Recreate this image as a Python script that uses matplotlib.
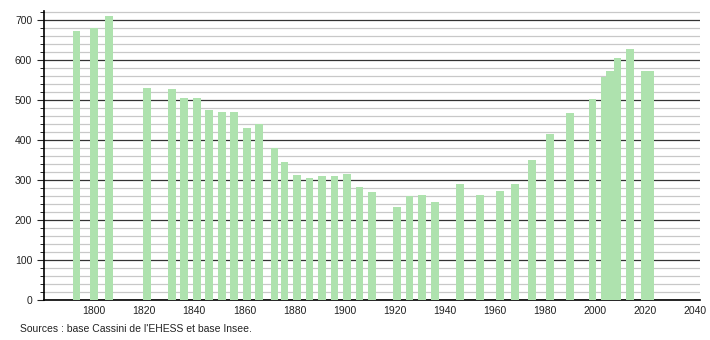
import matplotlib.pyplot as plt
from matplotlib.ticker import MultipleLocator

plt.rcParams['font.family'] = ['Liberation Sans', 'DejaVu Sans']

# Population par recensement
annees = [1793, 1800, 1806, 1821, 1831, 1836, 1841, 1846, 1851, 1856,
          1861, 1866, 1872, 1876, 1881, 1886, 1891, 1896, 1901, 1906,
          1911, 1921, 1926, 1931, 1936, 1946, 1954, 1962, 1968, 1975,
          1982, 1990, 1999, 2004, 2006, 2009, 2014, 2020, 2022]
population = [673, 680, 709, 529, 527, 504, 504, 475, 469, 469,
              429, 440, 379, 344, 312, 304, 310, 310, 314, 282,
              270, 232, 259, 262, 245, 290, 262, 273, 290, 349,
              415, 467, 502, 558, 571, 604, 627, 573, 573]
xticks = list(range(1800, 2041, 20))
yticks = list(range(0, 701, 100))

fig = plt.figure(figsize=(7.1, 3.4), dpi=100)
ax = fig.add_axes([0.062, 0.1176, 0.924, 0.85])

ax.bar(annees, population, width=3.1, color='#aee2ae', zorder=3)

ax.set_xlim(1780, 2042)
ax.set_ylim(0, 722)
ax.set_xticks(xticks)
ax.set_yticks(yticks)
ax.yaxis.set_minor_locator(MultipleLocator(20))
ax.grid(axis='y', which='major', color='#333333', lw=0.9, zorder=1)
ax.grid(axis='y', which='minor', color='#c8c8c8', lw=0.9, zorder=0)
ax.tick_params(axis='x', length=0, labelsize=7.5, pad=4, colors='#222222')
ax.tick_params(axis='y', which='major', length=5, labelsize=7.5, colors='#222222')
ax.tick_params(axis='y', which='minor', length=3)
for s in ['top', 'right']:
    ax.spines[s].set_visible(False)
ax.spines['left'].set_linewidth(1.2)
ax.spines['bottom'].set_linewidth(1.2)

fig.text(0.028, 0.025, "Sources : base Cassini de l'EHESS et base Insee.",
         fontsize=7.5, color='#222222')

fig.savefig('out.png', dpi=100)
